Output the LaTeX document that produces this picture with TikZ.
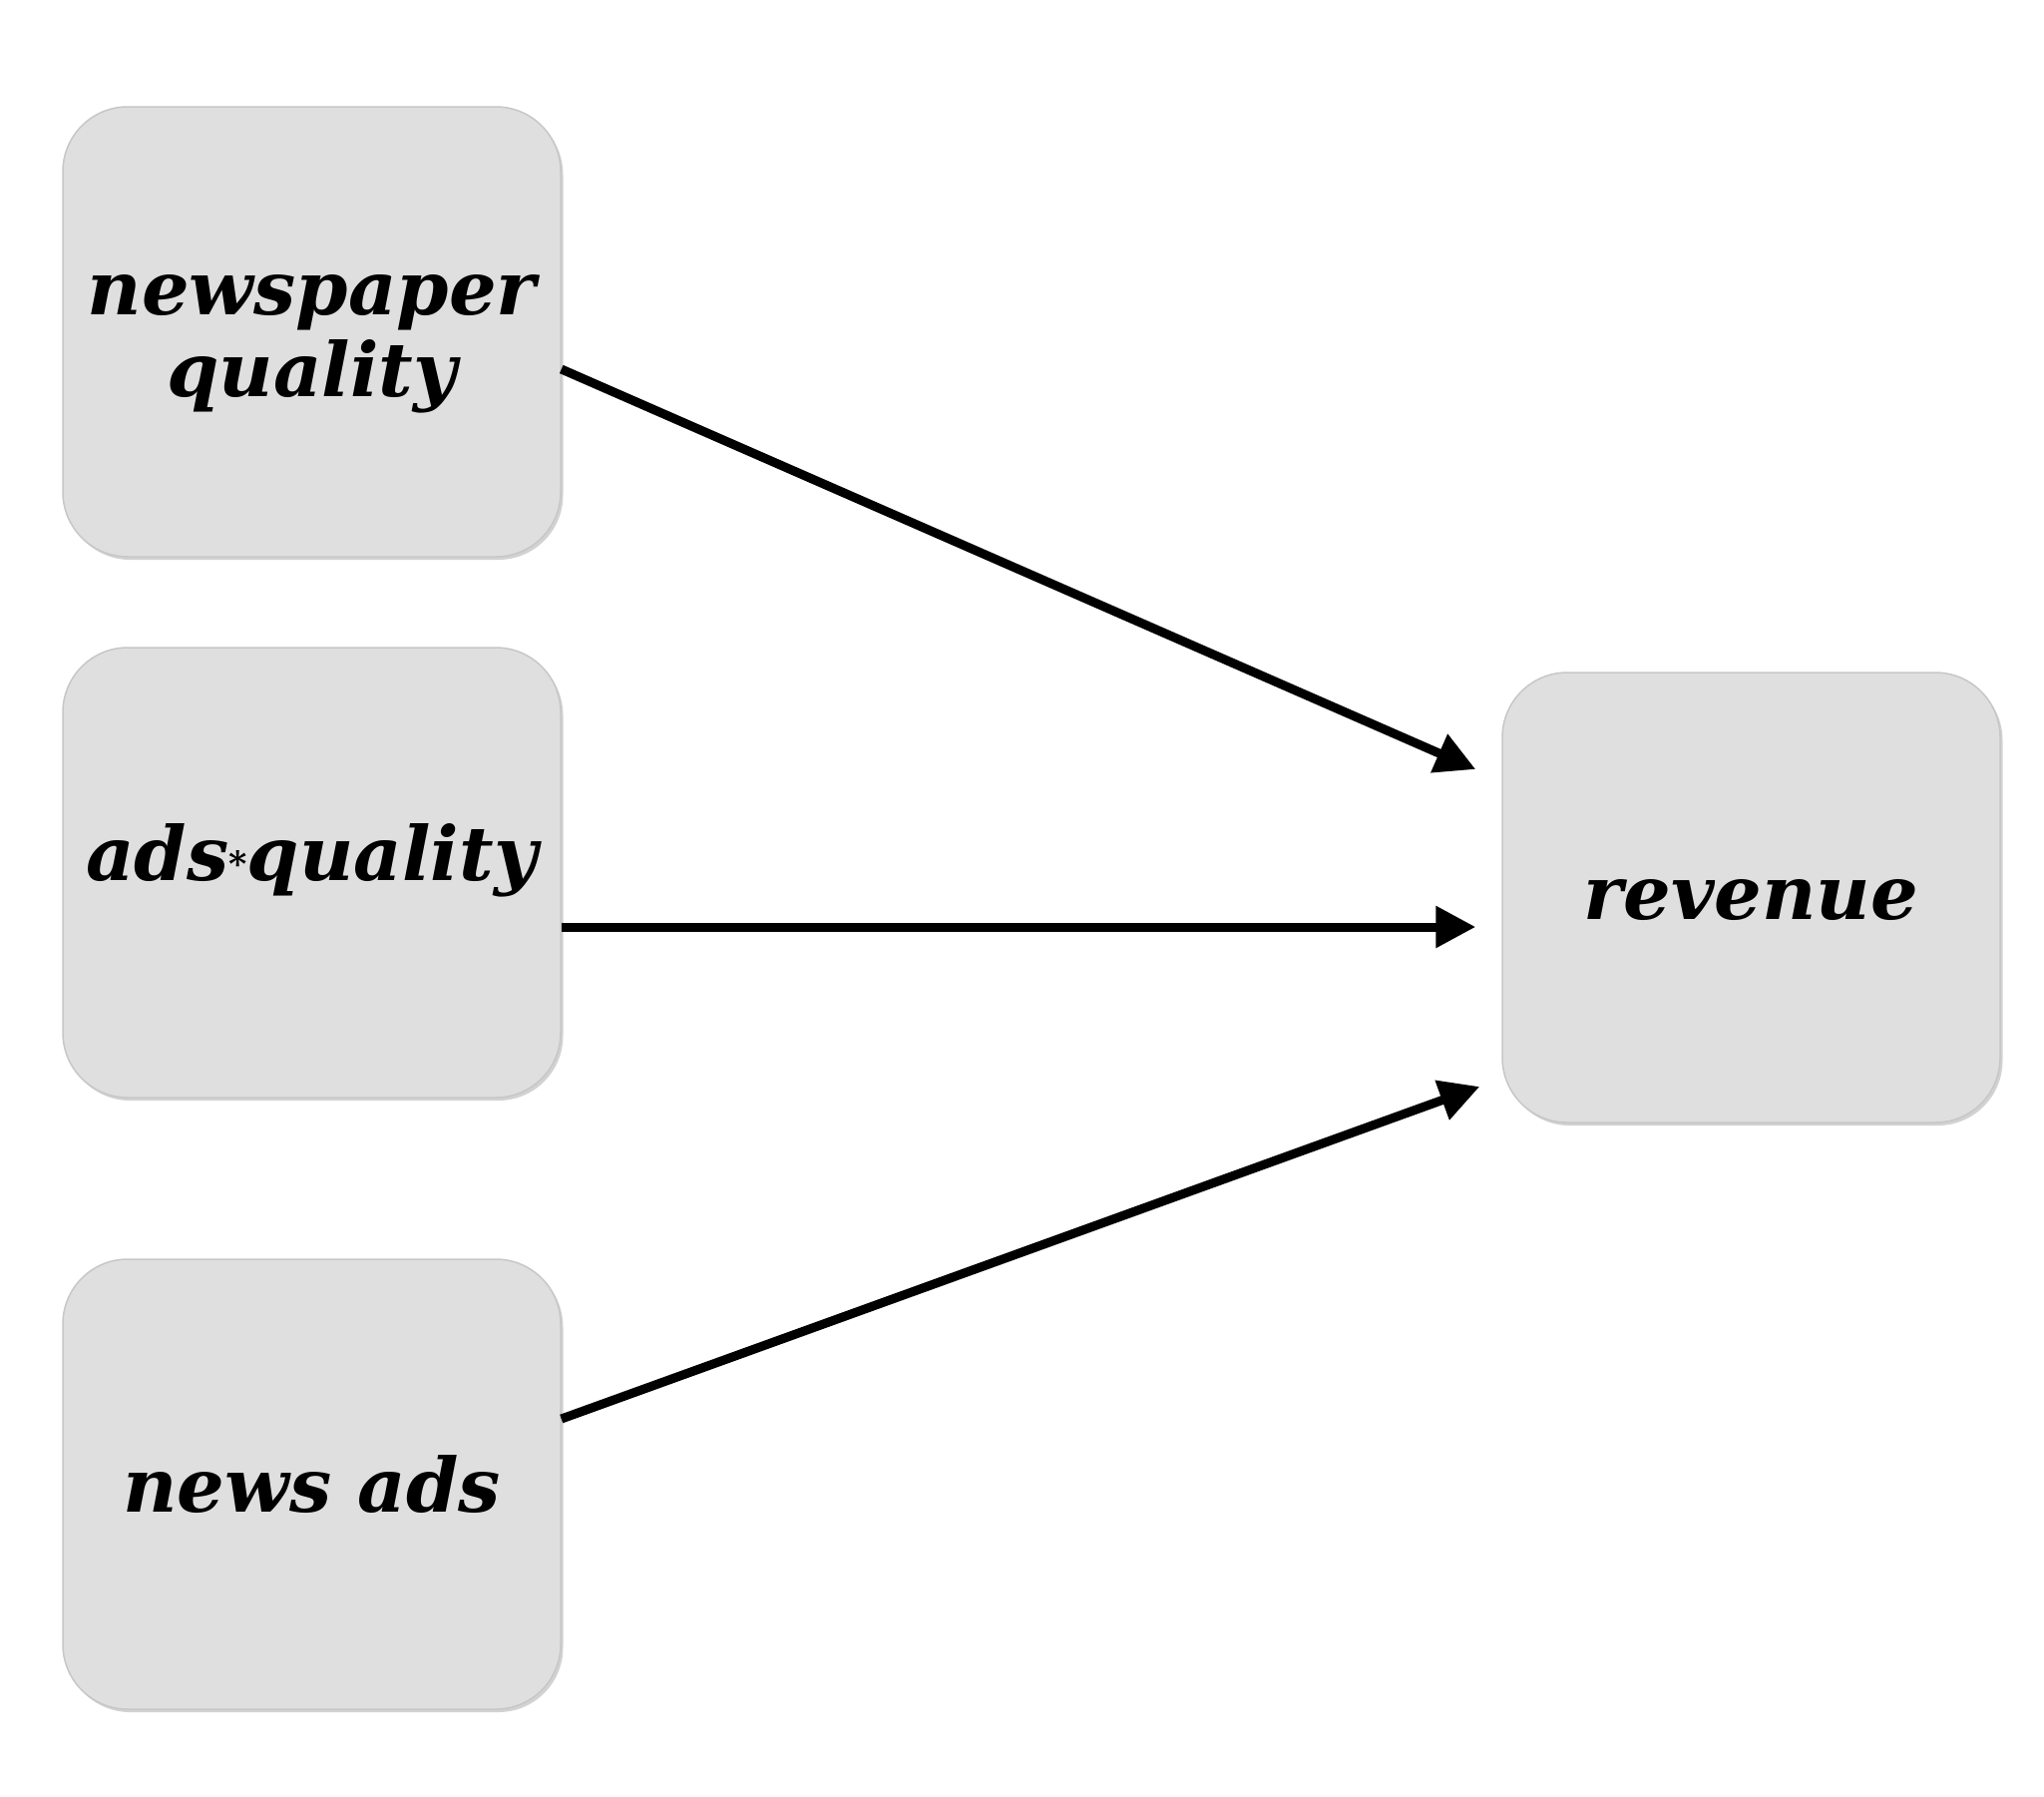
\documentclass[tikz,border=0pt]{standalone}
\usepackage{fontspec}
\setmainfont{DejaVu Serif}
\usetikzlibrary{arrows.meta,calc,shadows}
\begin{document}
\begin{tikzpicture}[x=1pt,y=-1pt,
  box/.style={draw=black!22, line width=1.5pt, fill=black!12.5, rounded corners=65pt,
    minimum width=499pt, minimum height=451pt,
    drop shadow={shadow xshift=2.5pt, shadow yshift=-3pt, fill=black!35, opacity=0.5}},
  txt/.style={align=center, inner sep=0pt,
    font=\fontsize{75}{82}\selectfont\bfseries\itshape},
  link/.style={line width=9pt, -{Triangle[length=40pt,width=40pt]}}]
\fill[white] (0,0) rectangle (2049,1800);
\useasboundingbox (0,0) rectangle (2049,1800);
\node[box] (nq) at (312.5,332.5) {};
\node[box] (aq) at (312.5,874.5) {};
\node[box] (na) at (312.5,1487.5) {};
\node[box] (rv) at (1755.5,899.5) {};
\node[txt] (nqt) at ($(nq.center)+(0,12)$) {newspaper\\quality};
\node[txt] (aqt) at ($(aq.center)+(0,-12)$) {ads\raisebox{4pt}{\fontsize{35}{35}\selectfont *}quality};
\node[txt] (nat) at (na.center) {news ads};
\node[txt] (rvt) at ($(rv.center)+(0,3)$) {revenue};
\draw[link] ($(nq.east)+(0,37.5)$) -- ($(rv.west)+(-26,-128.5)$);
\draw[link] ($(aq.east)+(0,54.5)$) -- ($(rv.west)+(-26,29.5)$);
\draw[link] ($(na.east)+(0,-65.5)$) -- ($(rv.west)+(-22,189.5)$);
\end{tikzpicture}
\end{document}
